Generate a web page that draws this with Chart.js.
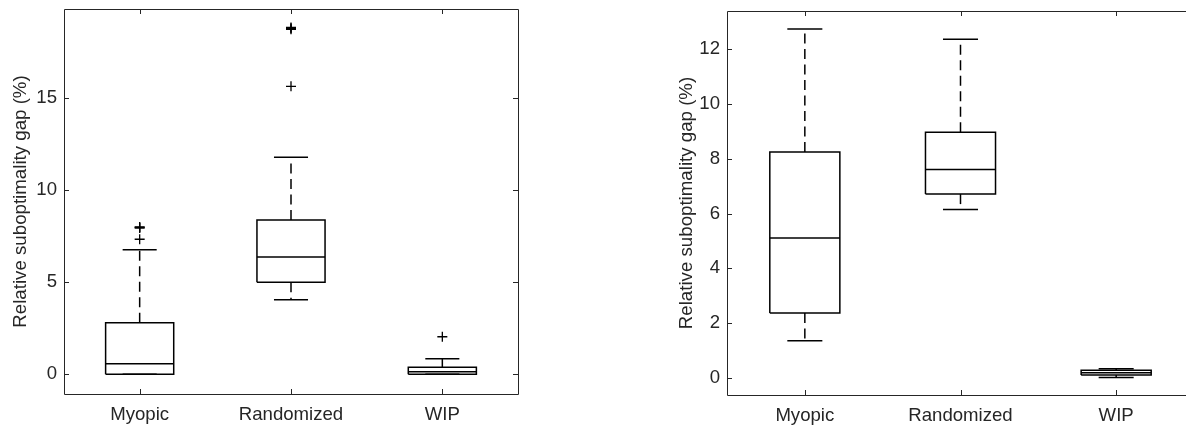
<!DOCTYPE html>
<html>
<head>
<meta charset="utf-8">
<script src="https://cdn.jsdelivr.net/npm/chart.js@4.4.1/dist/chart.umd.min.js"></script>
<style>
    html, body { margin: 0; padding: 0; background: #fff; overflow: hidden; }
    body { width: 1186px; height: 429px; position: relative; }
    canvas { position: absolute; top: 0; }
    #leftChart { left: 0; }
    #rightChart { left: 640px; }
</style>
</head>
<body>
<canvas id="leftChart" width="540" height="429"></canvas>
<canvas id="rightChart" width="570" height="429"></canvas>
<script>
// categories (x axis)
const categories = ["Myopic", "Randomized", "WIP"];

// left panel: box statistics per category
const leftLowerWhisker = [0, 4.05, 0];
const leftQ1 = [0, 5.0, 0];
const leftMedian = [0.58, 6.37, 0.14];
const leftQ3 = [2.80, 8.39, 0.38];
const leftUpperWhisker = [6.77, 11.8, 0.85];
const leftOutliers = [[7.34, 7.95, 7.98, 8.01], [15.65, 18.75, 18.8, 18.85], [2.04]];
const leftYTicks = [0, 5, 10, 15];
const leftYRange = [-1.07, 19.85];

// right panel
const rightLowerWhisker = [1.35, 6.15, 0.01];
const rightQ1 = [2.37, 6.71, 0.10];
const rightMedian = [5.11, 7.61, 0.18];
const rightQ3 = [8.25, 8.97, 0.27];
const rightUpperWhisker = [12.74, 12.37, 0.33];
const rightOutliers = [[], [], []];
const rightYTicks = [0, 2, 4, 6, 8, 10, 12];
const rightYRange = [-0.63, 13.4];

const yTitle = "Relative suboptimality gap (%)";

const FONT = "'Liberation Sans', Arial, Helvetica, sans-serif";
const AXIS_COLOR = "#262626";
const BOX_HALF = 0.225;
const CAP_HALF = 0.1125;

function seg(points, dashed) {
    return {
        data: points,
        showLine: true,
        borderColor: "#000",
        borderWidth: 1.5,
        borderDash: dashed ? [10, 5.5] : [],
        pointRadius: 0,
        pointHoverRadius: 0,
        fill: false,
        tension: 0
    };
}

function buildDatasets(lo, q1, med, q3, hi, outliers) {
    let sets = [];
    for (let i = 0; i < categories.length; i++) {
        let x = i + 1;
        sets.push(seg([
            {x: x - BOX_HALF, y: q1[i]}, {x: x + BOX_HALF, y: q1[i]},
            {x: x + BOX_HALF, y: q3[i]}, {x: x - BOX_HALF, y: q3[i]},
            {x: x - BOX_HALF, y: q1[i]}
        ], false));
        sets.push(seg([{x: x - BOX_HALF, y: med[i]}, {x: x + BOX_HALF, y: med[i]}], false));
        sets.push(seg([{x: x, y: q3[i]}, {x: x, y: hi[i]}], true));
        sets.push(seg([{x: x, y: q1[i]}, {x: x, y: lo[i]}], true));
        sets.push(seg([{x: x - CAP_HALF, y: hi[i]}, {x: x + CAP_HALF, y: hi[i]}], false));
        sets.push(seg([{x: x - CAP_HALF, y: lo[i]}, {x: x + CAP_HALF, y: lo[i]}], false));
        if (outliers[i].length) {
            sets.push({
                data: outliers[i].map(v => ({x: x, y: v})),
                showLine: false,
                pointStyle: "cross",
                pointRadius: 5,
                borderColor: "#000",
                borderWidth: 1.3,
                backgroundColor: "#000"
            });
        }
    }
    return sets;
}

// full box around plot area + inward tick marks
const framePlugin = {
    id: "frame",
    afterDatasetsDraw(chart) {
        const ctx = chart.ctx;
        const a = chart.chartArea;
        const xs = chart.scales.x, ys = chart.scales.y;
        const len = 5;
        ctx.save();
        ctx.strokeStyle = AXIS_COLOR;
        ctx.lineWidth = 1;
        ctx.beginPath();
        ctx.rect(Math.round(a.left) + 0.5, Math.round(a.top) + 0.5,
            Math.round(a.right - a.left), Math.round(a.bottom - a.top));
        xs.ticks.forEach(t => {
            let px = Math.round(xs.getPixelForValue(t.value)) + 0.5;
            ctx.moveTo(px, a.bottom); ctx.lineTo(px, a.bottom - len);
            ctx.moveTo(px, a.top); ctx.lineTo(px, a.top + len);
        });
        ys.ticks.forEach(t => {
            let py = Math.round(ys.getPixelForValue(t.value)) + 0.5;
            ctx.moveTo(a.left, py); ctx.lineTo(a.left + len, py);
            ctx.moveTo(a.right, py); ctx.lineTo(a.right - len, py);
        });
        ctx.stroke();
        ctx.restore();
    }
};

function makeChart(id, datasets, yRange, yTicks, opt) {
    new Chart(document.getElementById(id), {
        type: "scatter",
        data: { datasets: datasets },
        options: {
            responsive: false,
            animation: false,
            layout: { padding: opt.padding },
            plugins: { legend: { display: false }, tooltip: { enabled: false } },
            scales: {
                x: {
                    type: "linear",
                    min: 0.5,
                    max: 3.5,
                    afterBuildTicks: s => { s.ticks = categories.map((c, i) => ({value: i + 1})); },
                    afterFit: s => { s.height = opt.xHeight; s.paddingLeft = 0; s.paddingRight = 0; },
                    grid: { display: false, drawTicks: false },
                    border: { display: false },
                    ticks: {
                        padding: 10,
                        color: AXIS_COLOR,
                        font: { family: FONT, size: 18.6 },
                        callback: v => categories[v - 1]
                    }
                },
                y: {
                    type: "linear",
                    min: yRange[0],
                    max: yRange[1],
                    afterBuildTicks: s => { s.ticks = yTicks.map(v => ({value: v})); },
                    afterFit: s => { s.width = opt.yWidth; s.paddingTop = 0; s.paddingBottom = 0; },
                    grid: { display: false, drawTicks: false },
                    border: { display: false },
                    ticks: {
                        padding: 7,
                        color: AXIS_COLOR,
                        font: { family: FONT, size: 18.6 }
                    },
                    title: {
                        display: true,
                        text: yTitle,
                        color: AXIS_COLOR,
                        font: { family: FONT, size: 18.7 },
                        padding: { top: opt.titlePad, bottom: 0 }
                    }
                }
            }
        },
        plugins: [framePlugin]
    });
}

makeChart("leftChart",
    buildDatasets(leftLowerWhisker, leftQ1, leftMedian, leftQ3, leftUpperWhisker, leftOutliers),
    leftYRange, leftYTicks,
    { padding: { left: 0, right: 22, top: 9, bottom: 0 }, xHeight: 35, yWidth: 64, titlePad: 10 });

makeChart("rightChart",
    buildDatasets(rightLowerWhisker, rightQ1, rightMedian, rightQ3, rightUpperWhisker, rightOutliers),
    rightYRange, rightYTicks,
    { padding: { left: 0, right: 16, top: 11, bottom: 0 }, xHeight: 34, yWidth: 87, titlePad: 36 });
</script>
</body>
</html>
